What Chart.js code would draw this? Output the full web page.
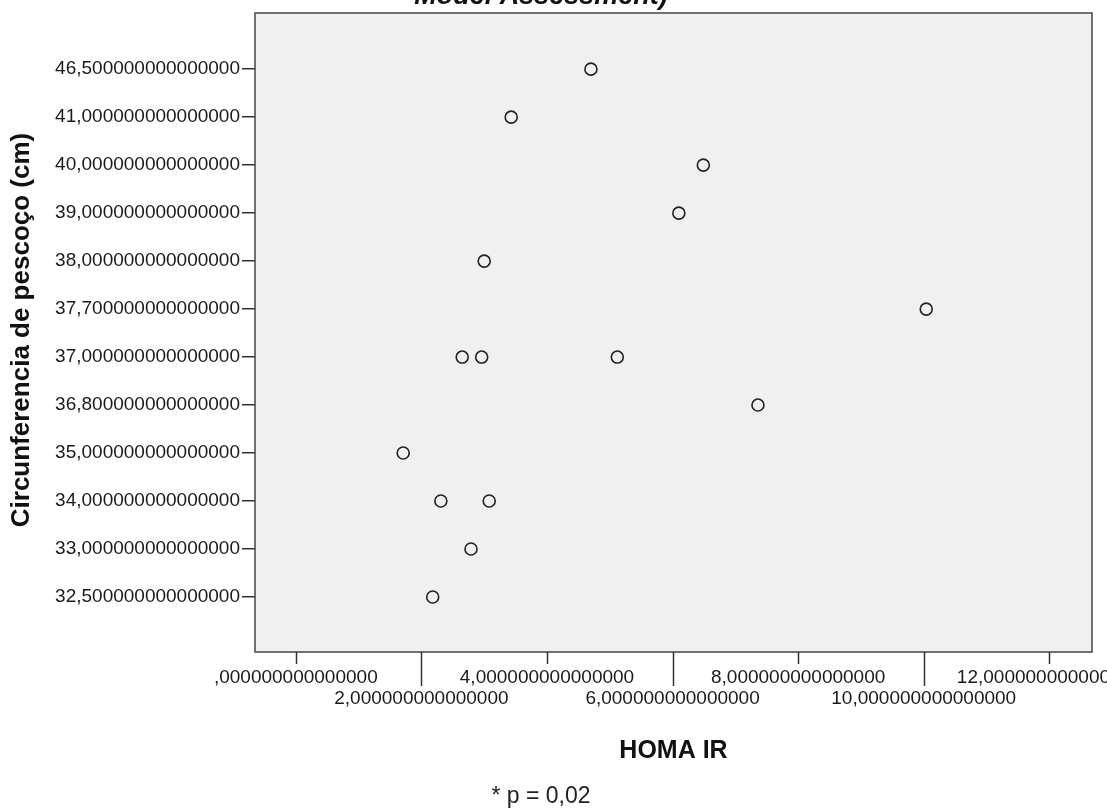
<!DOCTYPE html>
<html>
<head>
<meta charset="utf-8">
<script src="https://cdn.jsdelivr.net/npm/chart.js@4/dist/chart.umd.min.js"></script>
<style>
  html, body { margin: 0; padding: 0; background: #fff; }
  #wrap { width: 1107px; height: 810px; }
</style>
</head>
<body>
<div id="wrap"><canvas id="chart" width="1107" height="810"></canvas></div>
<script>
// ── DATA ────────────────────────────────────────────────────────────
// neck circumference categories (SPSS treats them as ordinal, evenly spaced)
const neckCategories = [32.5, 33, 34, 35, 36.8, 37, 37.7, 38, 39, 40, 41, 46.5];
const xTicks = [0, 2, 4, 6, 8, 10, 12];

// one entry per patient
const homaIR = [4.70, 3.43, 6.49, 6.10, 3.00, 10.04, 2.65, 2.96, 5.12, 7.36, 1.71, 2.31, 3.08, 2.79, 2.18];
const neckCm = [46.5, 41, 40, 39, 38, 37.7, 37, 37, 37, 36.8, 35, 34, 34, 33, 32.5];

const FONT = "'Liberation Sans', Arial, sans-serif";

// SPSS-style numbers: comma decimal, 15 decimals, leading zero dropped for 0
function spssNum(v) {
  const parts = String(v).split('.');
  const dec = (parts[1] || '').padEnd(15, '0');
  const int = parts[0] === '0' ? '' : parts[0];
  return int + ',' + dec;
}

const points = homaIR.map((x, i) => ({ x, y: neckCategories.indexOf(neckCm[i]) }));

// ── PLUGIN: panel background, frame, staggered x ticks, texts ─────
const spssFrame = {
  id: 'spssFrame',
  beforeDraw(chart) {
    const { ctx, chartArea: a } = chart;
    ctx.save();
    ctx.fillStyle = '#f0f0f0';
    ctx.fillRect(a.left, a.top, a.right - a.left, a.bottom - a.top);
    ctx.restore();
  },
  afterDraw(chart) {
    const { ctx, chartArea: a, scales } = chart;
    ctx.save();
    ctx.strokeStyle = '#444';
    ctx.lineWidth = 1.5;
    ctx.strokeRect(a.left, a.top, a.right - a.left, a.bottom - a.top);

    // x tick marks, long ones for the second label row
    ctx.strokeStyle = '#333';
    xTicks.forEach((t, i) => {
      const px = Math.round(scales.x.getPixelForValue(t)) + 0.5;
      const len = i % 2 ? 34 : 12;
      ctx.beginPath();
      ctx.moveTo(px, a.bottom);
      ctx.lineTo(px, a.bottom + len);
      ctx.stroke();
    });

    ctx.fillStyle = '#111';
    ctx.textAlign = 'center';

    // title, cut off by the image top
    ctx.font = `italic bold 27px ${FONT}`;
    ctx.textBaseline = 'alphabetic';
    ctx.fillText('Model Assessment)', 541, 4);

    // x title
    ctx.font = `bold 25px ${FONT}`;
    ctx.textBaseline = 'middle';
    ctx.fillText('HOMA IR', (a.left + a.right) / 2, 751);

    // footnote
    ctx.font = `23px ${FONT}`;
    ctx.fillStyle = '#222';
    ctx.fillText('* p = 0,02', 541, 797);

    // y title
    ctx.fillStyle = '#111';
    ctx.font = `bold 26px ${FONT}`;
    ctx.translate(22, 330);
    ctx.rotate(-Math.PI / 2);
    ctx.fillText('Circunferencia de pescoço (cm)', 0, 0);
    ctx.restore();
  }
};

// ── CHART ───────────────────────────────────────────────────────────
new Chart(document.getElementById('chart'), {
  type: 'scatter',
  data: {
    datasets: [{
      data: points,
      pointRadius: 6,
      pointHoverRadius: 6,
      pointBorderWidth: 1.6,
      pointBorderColor: '#222',
      pointBackgroundColor: 'rgba(0,0,0,0)'
    }]
  },
  options: {
    responsive: false,
    animation: false,
    layout: { padding: { top: 13, right: 15, bottom: 0, left: 0 } },
    plugins: {
      legend: { display: false },
      tooltip: { enabled: false },
      title: { display: false }
    },
    scales: {
      x: {
        type: 'linear',
        min: -0.65,
        max: 12.68,
        afterBuildTicks: s => { s.ticks = xTicks.map(v => ({ value: v })); },
        afterFit: s => { s.height = 158; s.paddingLeft = 0; s.paddingRight = 0; },
        grid: { display: false, drawTicks: false },
        border: { display: false },
        ticks: {
          autoSkip: false,
          maxRotation: 0,
          minRotation: 0,
          padding: 15,
          color: '#1a1a1a',
          font: { family: FONT, size: 19, lineHeight: 1.1 },
          callback: (v, i) => i % 2 ? ['', spssNum(v)] : spssNum(v)
        }
      },
      y: {
        type: 'linear',
        min: -1.146,
        max: 12.17,
        afterBuildTicks: s => { s.ticks = neckCategories.map((c, i) => ({ value: i })); },
        afterFit: s => { s.width = 255; s.paddingTop = 0; s.paddingBottom = 0; },
        grid: {
          display: true,
          drawOnChartArea: false,
          drawTicks: true,
          tickLength: 13,
          color: '#333',
          lineWidth: 1.5
        },
        border: { display: false },
        ticks: {
          autoSkip: false,
          padding: 2,
          color: '#1a1a1a',
          font: { family: FONT, size: 19 },
          callback: v => spssNum(neckCategories[v])
        }
      }
    }
  },
  plugins: [spssFrame]
});
</script>
</body>
</html>
